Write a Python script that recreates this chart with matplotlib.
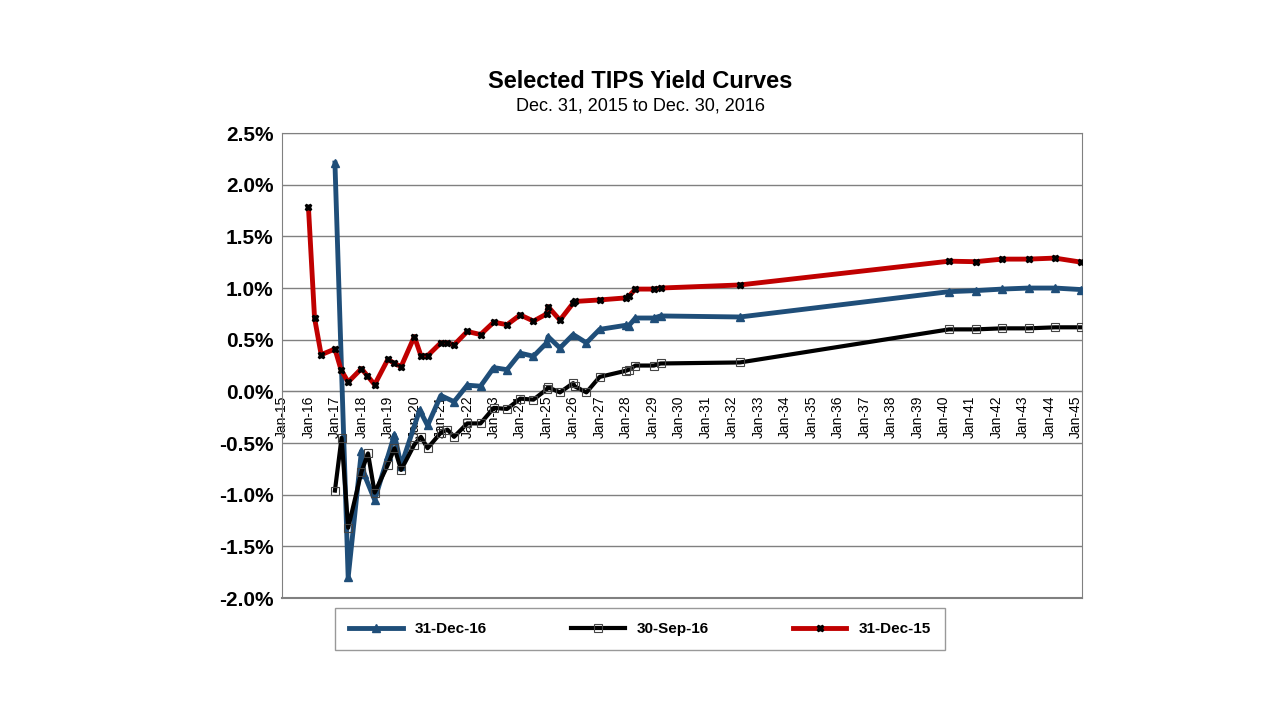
import matplotlib
matplotlib.use("Agg")
import matplotlib.pyplot as plt
from matplotlib.ticker import FuncFormatter

plt.rcParams['font.family'] = ['Liberation Sans', 'DejaVu Sans']

red_x = [2016.0,2016.23,2016.48,2017.0,2017.23,2017.5,2018.0,2018.23,2018.5,2019.0,2019.25,2019.5,2020.0,2020.25,2020.5,2021.0,2021.25,2021.5,2022.0,2022.5,2023.0,2023.5,2024.0,2024.5,2025.0,2025.05,2025.5,2026.0,2026.05,2027.0,2028.0,2028.1,2028.35,2029.05,2029.3,2032.3,2040.2,2041.2,2042.2,2043.2,2044.2,2045.2]
red_y = [1.78,0.71,0.355,0.41,0.21,0.09,0.22,0.15,0.065,0.31,0.27,0.24,0.53,0.345,0.345,0.47,0.47,0.45,0.58,0.55,0.67,0.645,0.74,0.68,0.75,0.82,0.69,0.855,0.87,0.885,0.905,0.92,0.99,0.99,1.0,1.03,1.26,1.255,1.28,1.28,1.29,1.25]

blue_x = [2017.0,2017.5,2018.0,2018.1,2018.5,2019.0,2019.25,2019.5,2020.2,2020.5,2021.0,2021.5,2022.0,2022.5,2023.0,2023.5,2024.0,2024.5,2025.0,2025.05,2025.5,2026.0,2026.5,2027.0,2028.0,2028.1,2028.35,2029.05,2029.3,2032.3,2040.2,2041.2,2042.2,2043.2,2044.2,2045.2]
blue_y = [2.21,-1.80,-0.58,-0.8,-1.05,-0.63,-0.42,-0.72,-0.18,-0.33,-0.04,-0.10,0.06,0.05,0.23,0.21,0.37,0.34,0.47,0.53,0.42,0.55,0.47,0.60,0.64,0.635,0.71,0.71,0.73,0.72,0.965,0.975,0.99,1.0,1.0,0.985]

black_x = [2017.0,2017.25,2017.5,2018.0,2018.25,2018.5,2019.0,2019.25,2019.5,2020.0,2020.25,2020.5,2021.0,2021.25,2021.5,2022.0,2022.5,2023.0,2023.5,2024.0,2024.5,2025.0,2025.05,2025.5,2026.0,2026.05,2026.5,2027.0,2028.0,2028.1,2028.35,2029.05,2029.3,2032.3,2040.2,2041.2,2042.2,2043.2,2044.2,2045.2]
black_y = [-0.96,-0.45,-1.32,-0.78,-0.60,-0.98,-0.71,-0.55,-0.76,-0.515,-0.44,-0.55,-0.40,-0.37,-0.44,-0.31,-0.31,-0.16,-0.17,-0.07,-0.08,0.02,0.04,-0.01,0.08,0.05,-0.01,0.14,0.20,0.21,0.25,0.25,0.27,0.28,0.60,0.60,0.61,0.61,0.62,0.62]

years = list(range(2015, 2046))
tick_labels = [f"Jan-{y % 100:02d}" for y in years]

fig = plt.figure(figsize=(12.8, 7.2), dpi=100)
ax = fig.add_axes([0.2203, 0.1694, 0.6250, 0.6458])

ax.plot(blue_x, blue_y, color='#1F4E79', lw=3.5, marker='^', ms=6, mfc='#1F4E79', mec='#1F4E79', label='31-Dec-16', zorder=3)
ax.plot(black_x, black_y, color='black', lw=3, marker='s', ms=6, mfc='none', mec='#444444', mew=0.8, label='30-Sep-16', zorder=4)
ax.plot(red_x, red_y, color='#C00000', lw=3.5, marker='X', ms=5, mfc='black', mec='black', label='31-Dec-15', zorder=5)

ax.set_xlim(2015.22, 2045.22)
ax.set_ylim(-2.0, 2.5)
ax.set_yticks([-2.0,-1.5,-1.0,-0.5,0,0.5,1.0,1.5,2.0,2.5])
ax.yaxis.set_major_formatter(FuncFormatter(lambda v, p: f"{v:.1f}%"))
ax.spines['bottom'].set_position(('data', 0))
ax.spines['bottom'].set_color('#808080')
ax.set_xticks(years)
ax.set_xticklabels(tick_labels, fontsize=10)
ax.tick_params(axis='x', length=0, pad=3, labelrotation=90)
ax.tick_params(axis='y', length=0, pad=6)
for t in ax.get_yticklabels():
    t.set_fontsize(15); t.set_fontweight('bold')
ax.grid(axis='y', color='#808080', lw=1)
ax.set_axisbelow(True)
for s in ['top', 'left', 'right']:
    ax.spines[s].set_color('#808080')
ax.axhline(-2.0, color='#808080', lw=1.5, clip_on=False)

fig.text(0.5, 0.878, "Selected TIPS Yield Curves", ha='center', fontsize=17, fontweight='bold')
fig.text(0.5, 0.847, "Dec. 31, 2015 to Dec. 30, 2016", ha='center', fontsize=13)

fig.legend(loc='center', bbox_to_anchor=(0.5, 0.1264), ncol=3, frameon=True, fancybox=False,
           edgecolor='#808080', prop={'weight': 'bold', 'size': 11},
           columnspacing=5.5, handlelength=3.5, borderpad=0.9)
fig.savefig("out.png", dpi=100)
